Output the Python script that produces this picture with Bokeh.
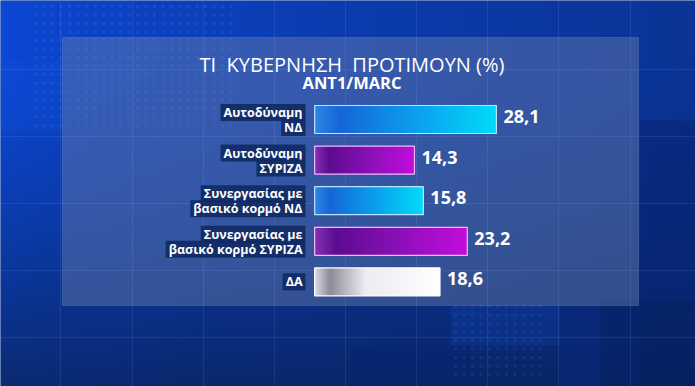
import numpy as np
from bokeh.plotting import figure
from bokeh.models import Range1d, ColumnDataSource
from bokeh.core.properties import value
from bokeh.embed import file_html
from bokeh.resources import INLINE

# ---------------- data ----------------
title_text = "ΤΙ\u00a0\u00a0ΚΥΒΕΡΝΗΣΗ\u00a0\u00a0ΠΡΟΤΙΜΟΥΝ\u00a0(%)"
subtitle_text = "ANT1/MARC"
categories = ["Αυτοδύναμη ΝΔ", "Αυτοδύναμη ΣΥΡΙΖΑ", "Συνεργασίας με βασικό κορμό ΝΔ",
              "Συνεργασίας με βασικό κορμό ΣΥΡΙΖΑ", "ΔΑ"]
label_lines = [["Αυτοδύναμη", "ΝΔ"], ["Αυτοδύναμη", "ΣΥΡΙΖΑ"], ["Συνεργασίας με", "βασικό κορμό ΝΔ"],
               ["Συνεργασίας με", "βασικό κορμό ΣΥΡΙΖΑ"], ["ΔΑ"]]
values = [28.1, 14.3, 15.8, 23.2, 18.6]
bar_kind = ["nd", "syriza", "nd", "syriza", "na"]

# ---------------- styles ----------------
W, H = 695, 386
PX_PER_UNIT = 5.94
ZERO_PX = 329.0
BAR_BASE = -2.5           # bars start slightly left of zero, as in the original graphic
ROW0_PX, ROW_PITCH = 119.0, 40.6
BAR_H = 0.69
FONT = "Open Sans"

gradients = {
    "nd": [(0.0, "#2f86e4"), (0.14, "#1666d8"), (0.55, "#0ba0ee"), (1.0, "#02dcfa")],
    "syriza": [(0.0, "#8234b4"), (0.14, "#5c0c90"), (0.55, "#8c10b8"), (1.0, "#c40ddc")],
    "na": [(0.0, "#dcdce4"), (0.12, "#8c8c9a"), (0.4, "#ececf2"), (1.0, "#ffffff")],
}
outline = {"nd": "#b8e4ff", "syriza": "#f2b8ff", "na": "#ffffff"}


def hex2rgb(h):
    return np.array([int(h[i:i + 2], 16) for i in (1, 3, 5)], dtype=float)


def gradient_row(stops, n):
    t = np.linspace(0, 1, n)
    ts = [s[0] for s in stops]
    cols = np.array([hex2rgb(s[1]) for s in stops])
    return np.stack([np.interp(t, ts, cols[:, c]) for c in range(3)], axis=1)


def to_rgba(arr):
    a = np.clip(arr, 0, 255).astype(np.uint32)
    h, w = a.shape[:2]
    out = np.empty((h, w), dtype=np.uint32)
    v = out.view(dtype=np.uint8).reshape((h, w, 4))
    v[:, :, 0] = a[:, :, 0]
    v[:, :, 1] = a[:, :, 1]
    v[:, :, 2] = a[:, :, 2]
    v[:, :, 3] = 255
    return out


x_start = -ZERO_PX / PX_PER_UNIT
x_end = (W - ZERO_PX) / PX_PER_UNIT
y_top = -ROW0_PX / ROW_PITCH
y_bottom = (H - ROW0_PX) / ROW_PITCH

p = figure(width=W, height=H, x_range=Range1d(x_start, x_end), y_range=Range1d(y_bottom, y_top),
           output_backend="svg", toolbar_location=None, x_axis_location=None, y_axis_location=None,
           min_border=0, background_fill_color="#0b3598", border_fill_color="#0b3598")
p.grid.visible = False
p.outline_line_color = None
p.extra_x_ranges = {"px": Range1d(0, W)}
p.extra_y_ranges = {"px": Range1d(H, 0)}
PX = dict(x_range_name="px", y_range_name="px")

# ---------------- background decoration ----------------
BW, BH = 139, 77
gx_, gy_ = np.meshgrid(np.linspace(0, 1, BW), np.linspace(0, 1, BH))
top_l, top_r = hex2rgb("#0c48d6"), hex2rgb("#0b3496")
bot_l, bot_r = hex2rgb("#0a2a72"), hex2rgb("#082464")
tx = gx_[..., None]
ty = np.clip((gy_[..., None] - 0.15) / 0.85, 0, 1) ** 1.3
top = top_l * (1 - tx ** 0.7) + top_r * tx ** 0.7
bot = bot_l * (1 - tx) + bot_r * tx
bg = top * (1 - ty) + bot * ty
p.image_rgba(image=[to_rgba(bg)], x=0, y=0, dw=W, dh=H, **PX)

# darker / lighter blocks
p.quad(left=[640, 560, 350, 450, 600, 0], right=[695, 640, 470, 560, 695, 62],
       top=[120, 310, 345, 305, 300, 60], bottom=[310, 386, 386, 345, 386, 130],
       fill_color=["#06226e", "#082a7e", "#06246e", "#0d44b4", "#05205e", "#1050d8"],
       fill_alpha=[0.5, 0.45, 0.5, 0.3, 0.45, 0.25], line_color=None, **PX)
# dot pattern
dx, dy = np.meshgrid(np.arange(35, 235, 8.5), np.arange(6, 130, 8.5))
p.scatter(dx.ravel(), dy.ravel(), marker="square", size=3, fill_color="#7aa0ff", fill_alpha=0.12,
          line_color=None, **PX)
dx2, dy2 = np.meshgrid(np.arange(455, 545, 8.5), np.arange(306, 380, 8.5))
p.scatter(dx2.ravel(), dy2.ravel(), marker="square", size=3, fill_color="#7aa0ff", fill_alpha=0.1,
          line_color=None, **PX)

# panel
p.quad(left=62, right=638, top=37, bottom=305, fill_color="#6a80aa", fill_alpha=0.44,
       line_color="#9fb4e0", line_alpha=0.2, **PX)

# grid lines
gx = [60, 132, 203, 274, 345, 416, 487, 558, 630]
gy = [69, 136, 203, 270, 337]
p.segment(x0=gx, x1=gx, y0=0, y1=H, line_color="#9ec0ff", line_alpha=0.12, line_width=1, **PX)
p.segment(x0=0, x1=W, y0=gy, y1=gy, line_color="#9ec0ff", line_alpha=0.12, line_width=1, **PX)

# ---------------- titles ----------------
p.text(x=[W / 2 + 4], y=[64], text=[title_text], text_font=value(FONT), text_font_size="20px",
       text_color="white", text_align="center", text_baseline="middle", **PX)
p.text(x=[W / 2 + 4], y=[81.5], text=[subtitle_text], text_font=value(FONT), text_font_size="16.5px",
       text_font_style="bold", text_color="white", text_align="center", text_baseline="middle", **PX)

# ---------------- bars ----------------
idx = list(range(len(categories)))
imgs = [to_rgba(np.repeat(gradient_row(gradients[k], 256)[None, :, :], 2, axis=0)) for k in bar_kind]
p.image_rgba(image=imgs, x=[BAR_BASE] * len(values), y=[i - BAR_H / 2 for i in idx],
             dw=[v - BAR_BASE for v in values], dh=[BAR_H] * len(values))

src = ColumnDataSource(dict(y=idx, v=values, cat=categories,
                            oc=[outline[k] for k in bar_kind],
                            lbl=[f"{v:.1f}".replace(".", ",") for v in values]))
p.hbar(y="y", left=BAR_BASE, right="v", height=BAR_H, fill_color=None, line_color="oc",
       line_width=1.2, source=src)

# value labels
p.text(x="v", y="y", text="lbl", x_offset=7, y_offset=-3, text_font=value(FONT), text_font_size="18px",
       text_font_style="bold", text_color="white", text_align="left", text_baseline="middle", source=src)

# category labels (each line in its own dark box)
lx = (305 - ZERO_PX) / PX_PER_UNIT
ly, lt, lo = [], [], []
for i, lines in enumerate(label_lines):
    offs = [0] if len(lines) == 1 else [-7, 8]
    for t, o in zip(lines, offs):
        ly.append(i)
        lt.append(t)
        lo.append(o)
p.text(x=lx, y=ly, text=lt, y_offset=lo, text_font=value(FONT), text_font_size="12.5px",
       text_font_style="bold", text_color="white", text_align="right", text_baseline="middle",
       background_fill_color="#102a62", background_fill_alpha=0.9,
       padding=dict(left=3, right=3, top=0, bottom=0))

open("out.html", "w").write(file_html(p, INLINE))
